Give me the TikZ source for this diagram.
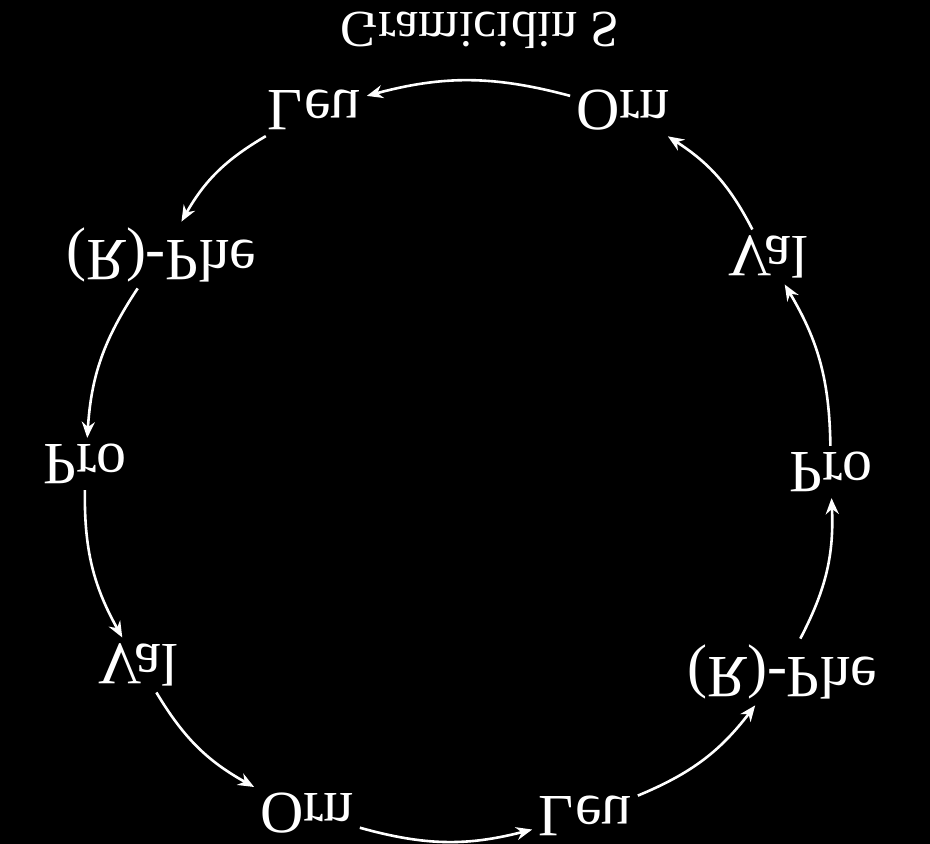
\documentclass[tikz,border=0pt]{standalone}
\usepackage{fontspec}
\setmainfont{Liberation Serif}
\usetikzlibrary{arrows.meta}
\newcommand\flipit[1]{\scalebox{1}[-1]{#1}}
\begin{document}
\begin{tikzpicture}[x=1pt,y=1pt,
  lab/.style={text=white,inner sep=6pt,font=\fontsize{60}{72}\selectfont},
  conn/.style={draw=white,line width=2.6pt,-{Stealth[length=16pt,width=13pt]},bend right=15}]
\fill[black] (0,0) rectangle (930,844);
\useasboundingbox (0,0) rectangle (930,844);
\node[text=white,inner sep=0pt,font=\fontsize{52}{62}\selectfont] (title) at (480,814) {\flipit{Gramicidin S}};
\node[lab] (orn1) at (623,734) {\flipit{Orn}};
\node[lab] (leu1) at (314,734) {\flipit{Leu}};
\node[lab] (phe1) at (161,589) {\flipit{(R)-Phe}};
\node[lab] (pro1) at (85,380) {\flipit{Pro}};
\node[lab] (val1) at (138,179) {\flipit{Val}};
\node[lab] (orn2) at (307,31) {\flipit{Orn}};
\node[lab] (leu2) at (585,28) {\flipit{Leu}};
\node[lab] (phe2) at (782,172) {\flipit{(R)-Phe}};
\node[lab] (pro2) at (831,372) {\flipit{Pro}};
\node[lab] (val2) at (768,587) {\flipit{Val}};
\draw[conn] (orn1) to (leu1);
\draw[conn] (leu1) to (phe1);
\draw[conn] (phe1) to (pro1);
\draw[conn] (pro1) to (val1);
\draw[conn] (val1) to (orn2);
\draw[conn] (orn2) to (leu2);
\draw[conn] (leu2) to (phe2);
\draw[conn] (phe2) to (pro2);
\draw[conn] (pro2) to (val2);
\draw[conn] (val2) to (orn1);
\end{tikzpicture}
\end{document}
